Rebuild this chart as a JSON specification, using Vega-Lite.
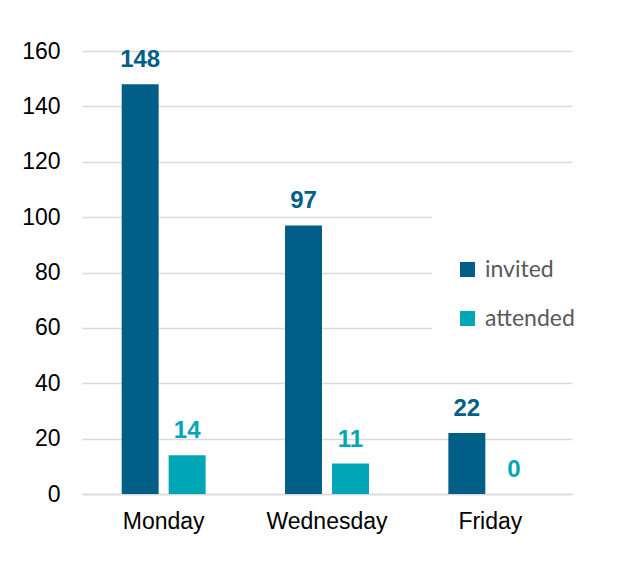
{
  "$schema": "https://vega.github.io/schema/vega-lite/v6.json",
  "width": 490,
  "height": 443,
  "autosize": "none",
  "padding": {"left": 82, "top": 51, "right": 55, "bottom": 85},
  "background": "white",
  "data": {
    "values": [
      {"day": "Monday", "series": "invited", "value": 148},
      {"day": "Monday", "series": "attended", "value": 14},
      {"day": "Wednesday", "series": "invited", "value": 97},
      {"day": "Wednesday", "series": "attended", "value": 11},
      {"day": "Friday", "series": "invited", "value": 22},
      {"day": "Friday", "series": "attended", "value": 0}
    ]
  },
  "encoding": {
    "x": {
      "field": "day",
      "type": "nominal",
      "sort": ["Monday", "Wednesday", "Friday"],
      "scale": {"paddingInner": 0.486, "paddingOuter": 0.243},
      "axis": {
        "title": null,
        "labelAngle": 0,
        "labelFont": "Liberation Sans",
        "labelFontSize": 23,
        "labelColor": "#000000",
        "labelPadding": 16,
        "ticks": false,
        "domain": true,
        "domainColor": "#d9d9d9",
        "domainWidth": 1.5
      }
    },
    "xOffset": {
      "field": "series",
      "type": "nominal",
      "sort": ["invited", "attended"],
      "scale": {"paddingInner": 0.213, "paddingOuter": 0}
    },
    "y": {
      "field": "value",
      "type": "quantitative",
      "scale": {"domain": [0, 160], "nice": false},
      "axis": {
        "title": null,
        "values": [0, 20, 40, 60, 80, 100, 120, 140, 160],
        "grid": true,
        "gridColor": "#d9d9d9",
        "gridWidth": 1.3,
        "ticks": false,
        "domain": false,
        "labelFont": "Liberation Sans",
        "labelFontSize": 23,
        "labelColor": "#000000",
        "labelPadding": 22
      }
    }
  },
  "layer": [
    {
      "mark": {"type": "bar"},
      "encoding": {
        "color": {
          "field": "series",
          "type": "nominal",
          "sort": ["invited", "attended"],
          "scale": {"domain": ["invited", "attended"], "range": ["#005E87", "#00A6B6"]},
          "legend": {
            "orient": "none",
            "legendX": 350,
            "legendY": 158,
            "title": " ",
            "titleFontSize": 20,
            "titlePadding": 5,
            "padding": 24,
            "fillColor": "white",
            "symbolType": "square",
            "symbolSize": 225,
            "symbolStrokeWidth": 0,
            "labelFont": "Lato",
            "labelFontSize": 23,
            "labelColor": "#595959",
            "labelOffset": 6,
            "rowPadding": 25
          }
        }
      }
    },
    {
      "mark": {
        "type": "text",
        "baseline": "alphabetic",
        "dy": -17,
        "font": "Liberation Sans",
        "fontWeight": "bold",
        "fontSize": 24
      },
      "encoding": {
        "text": {"field": "value", "type": "quantitative"},
        "color": {
          "field": "series",
          "type": "nominal",
          "sort": ["invited", "attended"],
          "scale": {"domain": ["invited", "attended"], "range": ["#005E87", "#00A6B6"]},
          "legend": null
        }
      }
    }
  ],
  "config": {"view": {"stroke": null}}
}
